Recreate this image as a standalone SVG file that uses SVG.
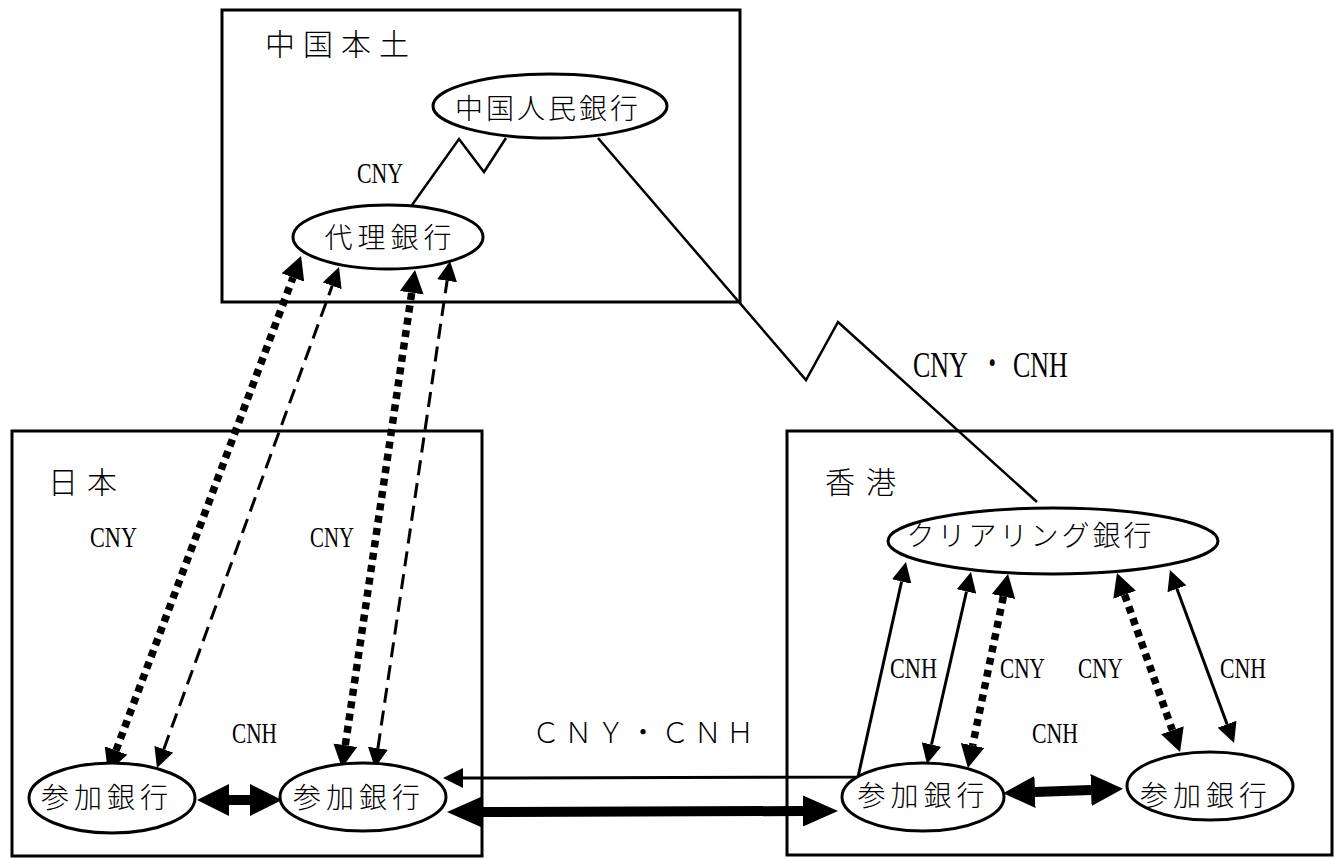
<svg xmlns="http://www.w3.org/2000/svg" width="1334" height="859" viewBox="0 0 1334 859">
<style>
.box{fill:none;stroke:#000;stroke-width:3}
.node{fill:#fff;stroke:#000;stroke-width:3}
.jp{font-family:"Noto Sans CJK JP","Noto Sans CJK SC",sans-serif;font-weight:300;fill:#000}
.nt{font-size:28px;text-anchor:middle}
.rt{font-size:30px}
.lab{font-family:"Liberation Serif",serif;font-size:30px;fill:#000}
.thin{fill:none;stroke:#000;stroke-width:3}
.dash{fill:none;stroke:#000;stroke-width:3;stroke-dasharray:15 8}
.dot{fill:none;stroke:#000;stroke-width:7.5;stroke-dasharray:7 5.5}
.bar{fill:none;stroke:#000;stroke-width:10}
.zig{fill:none;stroke:#000;stroke-width:2.5;stroke-linejoin:miter}
</style>
<defs>
<marker id="hs" viewBox="0 0 20 20" refX="0" refY="10" markerWidth="20" markerHeight="20" markerUnits="userSpaceOnUse" orient="auto-start-reverse"><path d="M0,0 L20,10 L0,20 z" fill="#000"/></marker>
<marker id="hd" viewBox="0 0 23 24" refX="0" refY="12" markerWidth="23" markerHeight="24" markerUnits="userSpaceOnUse" orient="auto-start-reverse"><path d="M0,0 L23,12 L0,24 z" fill="#000"/></marker>
<marker id="hb" viewBox="0 0 32 32" refX="0" refY="16" markerWidth="32" markerHeight="32" markerUnits="userSpaceOnUse" orient="auto-start-reverse"><path d="M0,0 L32,16 L0,32 z" fill="#000"/></marker>
<marker id="hb2" viewBox="0 0 35 31" refX="0" refY="15.5" markerWidth="35" markerHeight="31" markerUnits="userSpaceOnUse" orient="auto-start-reverse"><path d="M0,0 L35,15.5 L0,31 z" fill="#000"/></marker>
</defs>
<rect width="1334" height="859" fill="#fff"/>

<g id="region-mainland">
<rect class="box" x="222" y="10" width="518" height="292"/>
<text class="jp rt" x="265" y="55" letter-spacing="8">中国本土</text>
</g>
<g id="region-japan">
<rect class="box" x="12" y="431" width="470" height="425"/>
<text class="jp rt" x="48" y="493" letter-spacing="9">日本</text>
</g>
<g id="region-hongkong">
<rect class="box" x="787" y="431" width="545" height="424"/>
<text class="jp rt" x="825" y="493" letter-spacing="11">香港</text>
</g>

<g id="connectors">
<polyline class="zig" points="412,205 459,139 484,172 506,138"/>
<polyline class="zig" points="598,138 806,380 838,322 1037,502"/>
<line class="dot" x1="116" y1="750.5" x2="293" y2="277.5" marker-start="url(#hd)" marker-end="url(#hd)"/>
<line class="dash" x1="163.8" y1="749.2" x2="332.2" y2="285.8" marker-start="url(#hs)" marker-end="url(#hs)"/>
<line class="dot" x1="345.3" y1="745.2" x2="411.7" y2="292.8" marker-start="url(#hd)" marker-end="url(#hd)"/>
<line class="dash" x1="377.9" y1="748.2" x2="447.1" y2="280.8" marker-start="url(#hs)" marker-end="url(#hs)"/>
<line class="bar" x1="229" y1="800" x2="250" y2="800" marker-start="url(#hb)" marker-end="url(#hb)"/>
<line class="bar" x1="482" y1="812" x2="803" y2="811" marker-start="url(#hb2)" marker-end="url(#hb2)"/>
<line class="bar" x1="1035" y1="792" x2="1091" y2="790" marker-start="url(#hb)" marker-end="url(#hb)"/>
<polyline class="thin" points="463,778 858,777 901.6,581.5" marker-start="url(#hs)" marker-end="url(#hs)"/>
<line class="thin" x1="966.5" y1="591.5" x2="931.5" y2="744.5" marker-start="url(#hs)" marker-end="url(#hs)"/>
<line class="dot" x1="1003.4" y1="596.5" x2="972.6" y2="745.5" marker-start="url(#hd)" marker-end="url(#hd)"/>
<line class="dot" x1="1124.6" y1="594.7" x2="1172.4" y2="730.3" marker-start="url(#hd)" marker-end="url(#hd)"/>
<line class="thin" x1="1176.9" y1="588.8" x2="1227.1" y2="724.2" marker-start="url(#hs)" marker-end="url(#hs)"/>
</g>

<g id="connector-labels">
<text class="lab" transform="translate(357,183) scale(0.727,1)">CNY</text>
<text class="lab" style="font-size:36px" transform="translate(913,377) scale(0.72,1)"><tspan x="0">CNY</tspan><tspan class="jp" style="font-size:36px" x="92">・</tspan><tspan x="139">CNH</tspan></text>
<text class="lab" transform="translate(90,547) scale(0.742,1)">CNY</text>
<text class="lab" transform="translate(310,547) scale(0.695,1)">CNY</text>
<text class="lab" transform="translate(232,743) scale(0.71,1)">CNH</text>
<text class="jp" style="font-size:28px" x="532" y="743" textLength="222" lengthAdjust="spacing">ＣＮＹ・ＣＮＨ</text>
<text class="lab" transform="translate(890,678) scale(0.742,1)">CNH</text>
<text class="lab" transform="translate(1000,678) scale(0.71,1)">CNY</text>
<text class="lab" transform="translate(1032,743) scale(0.727,1)">CNH</text>
<text class="lab" transform="translate(1078,678) scale(0.71,1)">CNY</text>
<text class="lab" transform="translate(1220,678) scale(0.727,1)">CNH</text>
</g>

<g id="node-pboc">
<ellipse class="node" cx="550" cy="106" rx="117" ry="32"/>
<text class="jp nt" x="548" y="119" letter-spacing="3">中国人民銀行</text>
</g>
<g id="node-agent">
<ellipse class="node" cx="388" cy="237" rx="95" ry="32"/>
<text class="jp nt" x="390.5" y="248" letter-spacing="5">代理銀行</text>
</g>
<g id="node-jp1">
<ellipse class="node" cx="112" cy="798" rx="83" ry="35"/>
<text class="jp nt" x="107" y="808" letter-spacing="5">参加銀行</text>
</g>
<g id="node-jp2">
<ellipse class="node" cx="363" cy="797" rx="83" ry="34"/>
<text class="jp nt" x="359" y="808" letter-spacing="5">参加銀行</text>
</g>
<g id="node-clearing">
<ellipse class="node" cx="1053" cy="541" rx="165" ry="33"/>
<text class="jp nt" x="1030.5" y="546" letter-spacing="3">クリアリング銀行</text>
</g>
<g id="node-hk1">
<ellipse class="node" cx="923" cy="797" rx="81" ry="34"/>
<text class="jp nt" x="923.5" y="806" letter-spacing="5">参加銀行</text>
</g>
<g id="node-hk2">
<ellipse class="node" cx="1210" cy="786" rx="83" ry="34"/>
<text class="jp nt" x="1206" y="806" letter-spacing="5">参加銀行</text>
</g>
</svg>
